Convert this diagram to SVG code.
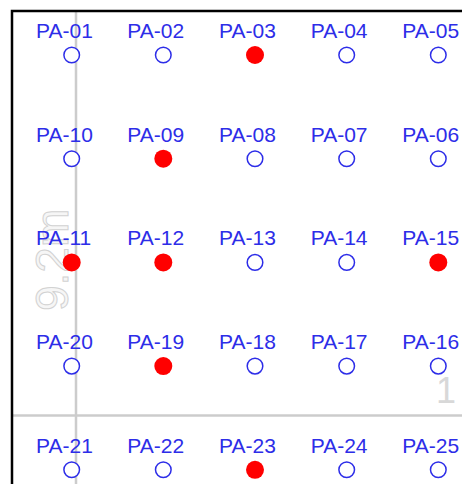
<svg xmlns="http://www.w3.org/2000/svg" width="462" height="484" viewBox="0 0 462 484">
<style>
.lbl{font-family:"Liberation Sans",Arial,sans-serif;font-size:21px;fill:#2d2de8}
.open{fill:#ffffff;stroke:#2d2de8;stroke-width:1.5}
.hit{fill:#ff0000;stroke:none}
.guide{stroke:#cccccc;stroke-width:2.5;fill:none}
.dim{font-family:"Liberation Sans",Arial,sans-serif;fill:#f6f6f6;stroke:#d2d2d2;stroke-width:1}
</style>
<rect width="462" height="484" fill="#ffffff"/>
<g id="guides">
<line class="guide" x1="76" y1="12" x2="76" y2="484"/>
<line class="guide" x1="13" y1="415.5" x2="462" y2="415.5"/>
<text class="dim" font-size="46" transform="translate(68,311) rotate(-90)">9.2m</text>
<text font-family="Liberation Sans, Arial, sans-serif" font-size="36" x="436" y="403" fill="#d8d8d8">1</text>
</g>
<g id="frame">
<path d="M12 484 V11 H462" fill="none" stroke="#000000" stroke-width="2.5"/>
</g>
<g id="connectors"/>
<g id="PA-01"><text class="lbl" x="36" y="38">PA-01</text><circle class="open" cx="71.7" cy="55" r="7.8"/></g>
<g id="PA-02"><text class="lbl" x="127.3" y="38">PA-02</text><circle class="open" cx="163.3" cy="55" r="7.8"/></g>
<g id="PA-03"><text class="lbl" x="219" y="38">PA-03</text><circle class="hit" cx="255" cy="55" r="9"/></g>
<g id="PA-04"><text class="lbl" x="310.7" y="38">PA-04</text><circle class="open" cx="346.7" cy="55" r="7.8"/></g>
<g id="PA-05"><text class="lbl" x="402.3" y="38">PA-05</text><circle class="open" cx="438.3" cy="55" r="7.8"/></g>
<g id="PA-10"><text class="lbl" x="36" y="141.7">PA-10</text><circle class="open" cx="71.7" cy="158.7" r="7.8"/></g>
<g id="PA-09"><text class="lbl" x="127.3" y="141.7">PA-09</text><circle class="hit" cx="163.3" cy="158.7" r="9"/></g>
<g id="PA-08"><text class="lbl" x="219" y="141.7">PA-08</text><circle class="open" cx="255" cy="158.7" r="7.8"/></g>
<g id="PA-07"><text class="lbl" x="310.7" y="141.7">PA-07</text><circle class="open" cx="346.7" cy="158.7" r="7.8"/></g>
<g id="PA-06"><text class="lbl" x="402.3" y="141.7">PA-06</text><circle class="open" cx="438.3" cy="158.7" r="7.8"/></g>
<g id="PA-11"><text class="lbl" x="36" y="245.4">PA-11</text><circle class="hit" cx="71.7" cy="262.4" r="9"/></g>
<g id="PA-12"><text class="lbl" x="127.3" y="245.4">PA-12</text><circle class="hit" cx="163.3" cy="262.4" r="9"/></g>
<g id="PA-13"><text class="lbl" x="219" y="245.4">PA-13</text><circle class="open" cx="255" cy="262.4" r="7.8"/></g>
<g id="PA-14"><text class="lbl" x="310.7" y="245.4">PA-14</text><circle class="open" cx="346.7" cy="262.4" r="7.8"/></g>
<g id="PA-15"><text class="lbl" x="402.3" y="245.4">PA-15</text><circle class="hit" cx="438.3" cy="262.4" r="9"/></g>
<g id="PA-20"><text class="lbl" x="36" y="349.1">PA-20</text><circle class="open" cx="71.7" cy="366.1" r="7.8"/></g>
<g id="PA-19"><text class="lbl" x="127.3" y="349.1">PA-19</text><circle class="hit" cx="163.3" cy="366.1" r="9"/></g>
<g id="PA-18"><text class="lbl" x="219" y="349.1">PA-18</text><circle class="open" cx="255" cy="366.1" r="7.8"/></g>
<g id="PA-17"><text class="lbl" x="310.7" y="349.1">PA-17</text><circle class="open" cx="346.7" cy="366.1" r="7.8"/></g>
<g id="PA-16"><text class="lbl" x="402.3" y="349.1">PA-16</text><circle class="open" cx="438.3" cy="366.1" r="7.8"/></g>
<g id="PA-21"><text class="lbl" x="36" y="452.8">PA-21</text><circle class="open" cx="71.7" cy="469.8" r="7.8"/></g>
<g id="PA-22"><text class="lbl" x="127.3" y="452.8">PA-22</text><circle class="open" cx="163.3" cy="469.8" r="7.8"/></g>
<g id="PA-23"><text class="lbl" x="219" y="452.8">PA-23</text><circle class="hit" cx="255" cy="469.8" r="9"/></g>
<g id="PA-24"><text class="lbl" x="310.7" y="452.8">PA-24</text><circle class="open" cx="346.7" cy="469.8" r="7.8"/></g>
<g id="PA-25"><text class="lbl" x="402.3" y="452.8">PA-25</text><circle class="open" cx="438.3" cy="469.8" r="7.8"/></g>
</svg>
